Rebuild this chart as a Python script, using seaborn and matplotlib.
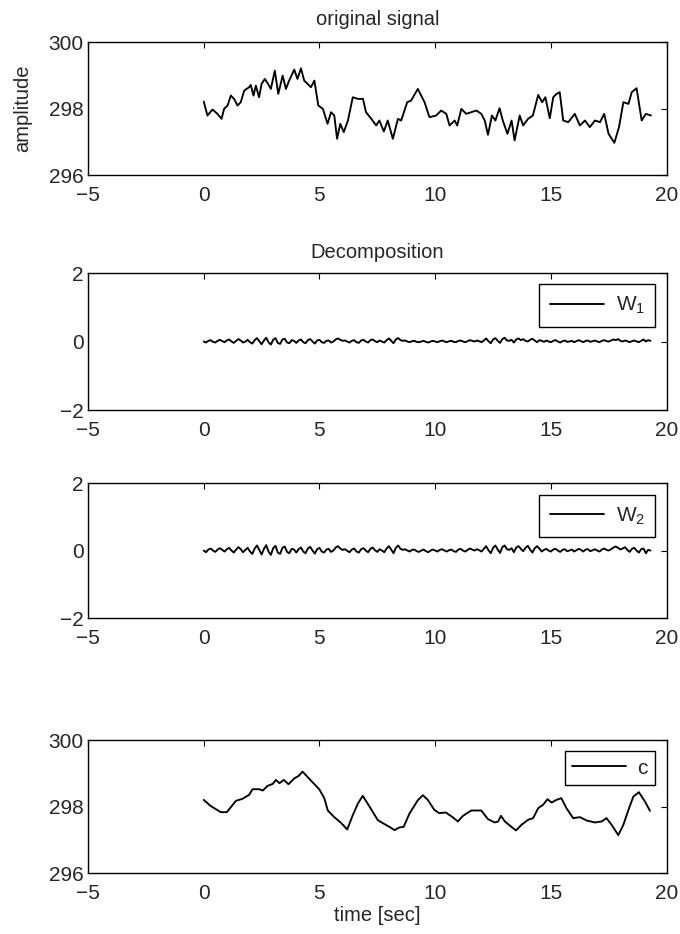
import numpy as np
import pandas as pd
import matplotlib
matplotlib.use("Agg")
import matplotlib.pyplot as plt
import seaborn as sns

# ---- original signal (time in sec, amplitude) ----
sig_t = [0.0, 0.16, 0.38, 0.59, 0.77, 0.88, 1.03, 1.17, 1.31, 1.46, 1.6, 1.75, 1.96, 2.03,
         2.15, 2.25, 2.39, 2.5, 2.64, 2.78, 2.9, 3.07, 3.22, 3.41, 3.55, 3.69, 3.91, 4.05,
         4.2, 4.34, 4.49, 4.63, 4.78, 4.95, 5.15, 5.35, 5.5, 5.64, 5.76, 5.9, 6.05, 6.23,
         6.44, 6.66, 6.88, 7.01, 7.24, 7.45, 7.59, 7.78, 7.95, 8.17, 8.39, 8.53, 8.79, 8.96,
         9.25, 9.54, 9.75, 10.04, 10.26, 10.48, 10.62, 10.84, 10.95, 11.13, 11.34, 11.56,
         11.78, 11.99, 12.14, 12.28, 12.45, 12.6, 12.78, 12.92, 13.12, 13.3, 13.43, 13.65,
         13.8, 14.01, 14.22, 14.45, 14.62, 14.76, 14.95, 15.1, 15.24, 15.38, 15.53, 15.75,
         16.03, 16.25, 16.47, 16.68, 16.9, 17.12, 17.3, 17.49, 17.74, 17.94, 18.13, 18.35,
         18.49, 18.7, 18.92, 19.1, 19.32]
sig_v = [298.21, 297.79, 297.97, 297.84, 297.69, 297.99, 298.09, 298.39, 298.29, 298.09,
         298.19, 298.54, 298.64, 298.71, 298.39, 298.69, 298.34, 298.74, 298.89, 298.74,
         298.59, 299.14, 298.44, 298.99, 298.59, 298.84, 299.17, 298.89, 299.21, 298.84,
         298.74, 298.64, 298.84, 298.09, 297.99, 297.54, 297.89, 297.79, 297.09, 297.54,
         297.29, 297.64, 298.34, 298.29, 298.29, 297.89, 297.69, 297.49, 297.64, 297.31,
         297.64, 297.09, 297.69, 297.64, 298.19, 298.24, 298.59, 298.19, 297.74, 297.79,
         297.94, 297.84, 297.49, 297.64, 297.49, 297.99, 297.84, 297.89, 297.94, 297.84,
         297.64, 297.21, 297.79, 297.64, 298.01, 297.64, 297.24, 297.64, 297.04, 297.79,
         297.49, 297.69, 297.79, 298.41, 298.19, 298.34, 297.71, 298.34, 298.44, 298.49,
         297.64, 297.59, 297.84, 297.49, 297.64, 297.44, 297.64, 297.59, 297.84, 297.24,
         296.97, 297.44, 298.19, 298.14, 298.49, 298.61, 297.64, 297.84, 297.79]

# ---- detail coefficients W1, W2 (sampled every 0.1 sec) ----
w_t = np.round(np.arange(0, 194) * 0.1, 1)
w1 = [0.0, -0.03, 0.02, 0.04, -0.01, -0.03, 0.02, 0.05, 0.01, -0.02,
      0.03, 0.06, 0.0, -0.04, 0.02, 0.07, 0.03, -0.03, 0.0, 0.05,
      -0.02, -0.06, 0.04, 0.10, 0.01, -0.08, 0.03, 0.11, -0.02, -0.09,
      0.05, 0.10, -0.04, -0.07, 0.06, 0.08, -0.03, -0.05, 0.04, 0.02,
      -0.04, 0.03, 0.06, -0.02, -0.05, 0.04, 0.07, 0.0, -0.06, 0.03,
      0.05, -0.02, -0.04, 0.02, 0.03, -0.03, 0.0, 0.06, 0.09, 0.05,
      0.02, 0.03, 0.0, -0.03, 0.02, 0.04, -0.02, -0.04, 0.03, 0.05,
      0.0, -0.03, 0.04, 0.06, 0.01, -0.02, 0.03, 0.0, -0.03, 0.04,
      0.09, 0.02, -0.05, 0.06, 0.10, 0.04, 0.02, 0.03, 0.0, -0.02,
      0.01, 0.02, -0.01, -0.02, 0.0, 0.02, -0.01, -0.03, 0.0, 0.02,
      0.0, -0.02, 0.01, 0.03, 0.0, -0.02, 0.01, 0.02, -0.01, -0.02,
      0.02, 0.03, 0.0, -0.02, 0.01, 0.04, 0.02, 0.0, 0.03, 0.01,
      -0.02, 0.03, 0.09, 0.01, -0.05, 0.06, 0.10, 0.02, -0.04, 0.07,
      0.11, 0.03, 0.02, 0.05, -0.03, 0.06, 0.09, 0.04, 0.07, 0.02,
      0.0, 0.05, 0.08, 0.03, -0.02, 0.04, 0.02, -0.01, 0.03, 0.0,
      -0.02, 0.02, 0.04, 0.0, -0.03, 0.01, 0.03, -0.01, 0.0, 0.02,
      -0.02, 0.01, 0.04, 0.01, -0.02, 0.02, 0.03, -0.01, 0.01, 0.03,
      0.0, -0.02, 0.02, 0.04, 0.01, 0.0, 0.03, 0.06, 0.04, 0.07,
      0.02, 0.0, 0.03, 0.01, -0.02, 0.01, 0.03, 0.0, -0.02, 0.02,
      0.06, 0.0, 0.04, 0.02]
w2 = [0.0, -0.05, 0.03, 0.06, 0.0, -0.04, 0.03, 0.07, 0.02, -0.03,
      0.04, 0.08, 0.0, -0.06, 0.03, 0.10, 0.04, -0.05, 0.02, 0.08,
      -0.03, -0.10, 0.06, 0.15, 0.02, -0.12, 0.05, 0.16, -0.03, -0.13,
      0.07, 0.14, -0.06, -0.10, 0.08, 0.12, -0.04, -0.08, 0.05, 0.03,
      -0.06, 0.04, 0.09, -0.03, -0.08, 0.06, 0.11, 0.0, -0.09, 0.04,
      0.08, -0.03, -0.06, 0.03, 0.05, -0.04, 0.0, 0.09, 0.13, 0.06,
      0.02, 0.04, -0.01, -0.05, 0.03, 0.06, -0.03, -0.06, 0.04, 0.07,
      0.0, -0.05, 0.05, 0.09, 0.01, -0.04, 0.04, 0.0, -0.05, 0.06,
      0.13, 0.03, -0.08, 0.08, 0.15, 0.05, 0.02, 0.04, 0.0, -0.03,
      0.02, 0.03, -0.02, -0.04, 0.0, 0.03, -0.02, -0.05, 0.0, 0.03,
      0.0, -0.03, 0.02, 0.04, 0.0, -0.03, 0.01, 0.03, -0.02, -0.04,
      0.03, 0.05, 0.0, -0.03, 0.02, 0.06, 0.03, 0.0, 0.04, 0.01,
      -0.03, 0.05, 0.13, 0.01, -0.08, 0.08, 0.15, 0.03, -0.07, 0.10,
      0.15, 0.04, 0.02, 0.07, -0.05, 0.09, 0.13, 0.05, -0.02, 0.08,
      0.14, 0.03, -0.06, 0.07, 0.13, 0.06, -0.03, 0.02, 0.05, 0.0,
      -0.03, 0.03, 0.05, 0.0, -0.04, 0.02, 0.04, -0.02, 0.0, 0.03,
      -0.03, 0.01, 0.05, 0.02, -0.03, 0.03, 0.04, -0.02, 0.01, 0.04,
      0.0, -0.03, 0.03, 0.06, 0.02, 0.0, 0.04, 0.09, 0.12, 0.08,
      0.03, 0.06, 0.10, 0.02, -0.04, 0.05, 0.08, 0.0, -0.06, 0.04,
      0.06, -0.08, 0.02, 0.0]

# ---- approximation c ----
c_t = [0.0, 0.29, 0.74, 1.0, 1.39, 1.67, 1.96, 2.11, 2.4, 2.55, 2.76, 2.98, 3.12, 3.27,
       3.46, 3.66, 3.92, 4.1, 4.27, 4.63, 4.99, 5.21, 5.36, 5.64, 5.93, 6.2, 6.44, 6.66,
       6.87, 7.08, 7.3, 7.52, 7.81, 8.02, 8.24, 8.45, 8.64, 8.89, 9.25, 9.47, 9.68, 9.96,
       10.17, 10.46, 10.75, 10.98, 11.2, 11.56, 11.99, 12.28, 12.57, 12.72, 12.84, 13.01,
       13.27, 13.49, 13.73, 14.01, 14.23, 14.45, 14.66, 14.85, 15.03, 15.24, 15.45, 15.67,
       15.96, 16.25, 16.54, 16.9, 17.19, 17.4, 17.62, 17.91, 18.13, 18.35, 18.56, 18.8,
       19.06, 19.28]
c_v = [298.2, 298.02, 297.83, 297.83, 298.17, 298.23, 298.35, 298.52, 298.52, 298.48,
       298.62, 298.68, 298.8, 298.7, 298.8, 298.67, 298.85, 298.92, 299.05, 298.78,
       298.52, 298.25, 297.88, 297.68, 297.51, 297.31, 297.74, 298.09, 298.32, 298.09,
       297.84, 297.59, 297.47, 297.39, 297.29, 297.37, 297.39, 297.79, 298.19, 298.34,
       298.2, 297.9, 297.8, 297.82, 297.68, 297.55, 297.72, 297.88, 297.88, 297.62,
       297.52, 297.55, 297.72, 297.55, 297.4, 297.28, 297.45, 297.6, 297.65, 297.95,
       298.05, 298.22, 298.12, 298.2, 298.25, 297.95, 297.65, 297.68, 297.58, 297.52,
       297.55, 297.65, 297.45, 297.14, 297.45, 297.9, 298.3, 298.43, 298.15, 297.87]

x_ticks = [-5, 0, 5, 10, 15, 20]
amp_ticks = [296, 298, 300]
w_ticks = [-2, 0, 2]

sns.set_style("white")
plt.rcParams["font.family"] = ["Liberation Sans", "DejaVu Sans"]
plt.rcParams["axes.unicode_minus"] = True
plt.rcParams["mathtext.fontset"] = "custom"
plt.rcParams["mathtext.rm"] = "Liberation Sans"

FS = 15
fig = plt.figure(figsize=(6.8, 9.34), dpi=100)

left, width = 0.1294, 0.851
rects = [
    [left, 0.8126, width, 0.1424],
    [left, 0.5610, width, 0.1467],
    [left, 0.3383, width, 0.1445],
    [left, 0.0653, width, 0.1424],
]
axes = [fig.add_axes(r) for r in rects]

panels = [
    (sig_t, sig_v, None, amp_ticks),
    (w_t, w1, r"W$_{\mathrm{1}}$", w_ticks),
    (w_t, w2, r"W$_{\mathrm{2}}$", w_ticks),
    (c_t, c_v, "c", amp_ticks),
]

for ax, (tx, vy, lab, yt) in zip(axes, panels):
    df = pd.DataFrame({"t": tx, "v": vy})
    sns.lineplot(data=df, x="t", y="v", ax=ax, color="black", linewidth=1.35,
                 label=lab, legend=bool(lab), sort=False, estimator=None)
    ax.set_xlim(-5, 20)
    ax.set_ylim(yt[0], yt[-1])
    ax.set_xticks(x_ticks)
    ax.set_yticks(yt)
    ax.set_xlabel("")
    ax.set_ylabel("")
    ax.tick_params(direction="in", length=4, width=0.8, top=True, right=True,
                   labelsize=FS, color="black")
    ax.tick_params(axis="x", pad=8)
    ax.tick_params(axis="y", pad=3)
    for s in ax.spines.values():
        s.set_visible(True)
        s.set_color("black")
        s.set_linewidth(1.0)
    if lab:
        bp = 0.5 if lab != "c" else 0.35
        leg = ax.legend(loc="upper right", fontsize=FS, frameon=True, fancybox=False,
                        edgecolor="black", handlelength=2.6, handletextpad=0.55,
                        borderpad=bp, borderaxespad=0.55)
        leg.get_frame().set_linewidth(1.0)
        leg.get_frame().set_alpha(1)

axes[0].set_title("original signal", fontsize=FS - 0.5, pad=12)
axes[0].set_ylabel("amplitude", fontsize=FS - 0.5, labelpad=12)
axes[1].set_title("Decomposition", fontsize=FS - 0.5, pad=11)
axes[3].set_xlabel("time [sec]", fontsize=FS - 0.5, labelpad=2)

fig.savefig("out.png", dpi=100, facecolor="white")
